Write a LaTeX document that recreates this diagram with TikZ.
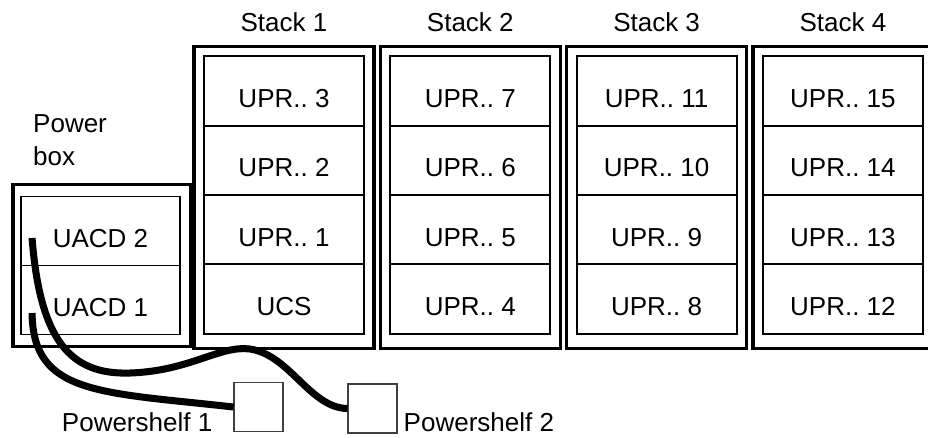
\documentclass[tikz,border=0pt]{standalone}
\usepackage{fontspec}
\setmainfont{Liberation Sans}
\usetikzlibrary{positioning,calc}

\begin{document}
\begin{tikzpicture}[x=0.02cm,y=-0.02cm,
  every node/.style={font=\fontsize{14.8}{18.8}\selectfont},
  cell/.style={draw,line width=1.1pt,minimum width=3.2cm,minimum height=1.39cm,inner sep=0pt,
    text height=18.6pt,text depth=0pt},
  pcell/.style={cell,minimum width=3.18cm,minimum height=1.38cm},
  frame/.style={draw,line width=2pt},
  shelf/.style={draw=black!75,line width=0.6pt,minimum size=0.98cm,inner sep=0pt},
  cable/.style={line width=4pt}]
\useasboundingbox (0,0) rectangle (928,437);

% four stacks, bottom row first
\foreach \s in {1,...,4} {
  \pgfmathsetmacro\cx{284+186.3*(\s-1)}
  \node (st\s) at (\cx,22) {Stack \s};
  \foreach \r in {0,...,3} {
    \pgfmathtruncatemacro\n{4*(\s-1)+\r}
    \ifnum\n=0 \def\txt{UCS}\else\def\txt{UPR..~\n}\fi
    \node[cell] (s\s r\r) at (\cx,{299-69.3*\r}) {\txt};
  }
  \draw[frame] ($(s\s r3.north west)+(-9,-9)$) rectangle ($(s\s r0.south east)+(9,14)$);
}

% power box
\node[pcell] (ua2) at (100.5,231) {UACD 2};
\node[pcell] (ua1) at (100.5,300) {UACD 1};
\draw[frame] ($(ua2.north west)+(-7,-11)$) rectangle ($(ua1.south east)+(10,11)$);
\node[align=left,anchor=west] (pwlbl) at (27,140) {Power\\box};

% powershelves
\node[shelf] (ps1) at (258.5,407) {};
\node[shelf] (ps2) at (372.5,408.5) {};
\node[anchor=base east] (ps1lbl) at ($(ps1.west)+(-15,24)$) {Powershelf 1};
\node[anchor=base west] (ps2lbl) at ($(ps2.east)+(0,22.5)$) {Powershelf 2};

% cables
\coordinate (c1) at ($(ua1.west)+(12,13)$);
\coordinate (c2) at ($(ua2.west)+(12,7)$);
\draw[cable] (c1) .. controls (33,395) and (100,392) .. (ps1.west);
\draw[cable] (c2) .. controls (40,340) and (70,375) .. (130,373)
  .. controls (190,371) and (220,345) .. (250,349)
  .. controls (290,355) and (310,408) .. (ps2.west);
\end{tikzpicture}
\end{document}
